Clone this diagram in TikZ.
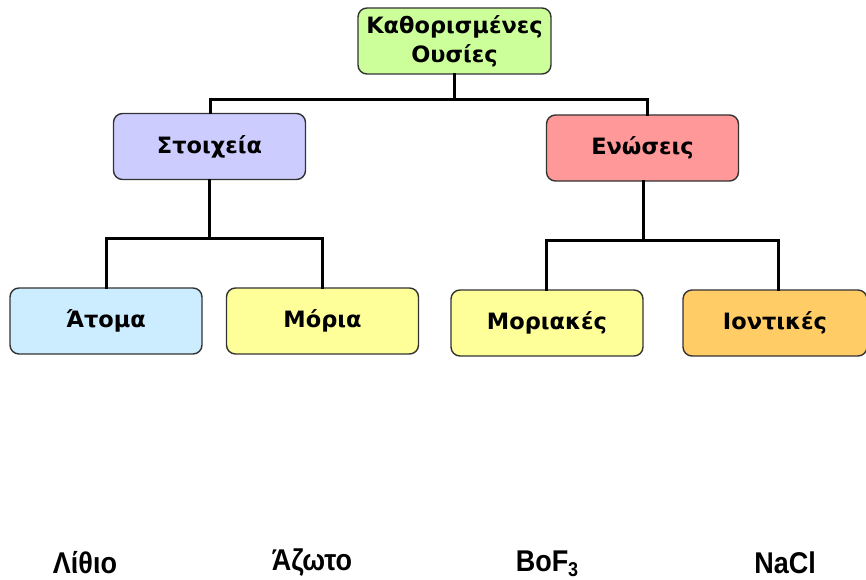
\documentclass[tikz,border=0pt]{standalone}
\usepackage{fontspec}
\setmainfont{DejaVu Sans}[BoldFont={DejaVu Sans Bold}]
\newfontfamily\labfont{Liberation Sans Bold}[FakeStretch=0.9]
\definecolor{cTop}{HTML}{CCFF99}
\definecolor{cStoi}{HTML}{CCCCFF}
\definecolor{cEno}{HTML}{FF9999}
\definecolor{cAto}{HTML}{CCECFF}
\definecolor{cMor}{HTML}{FFFF99}
\definecolor{cIon}{HTML}{FFCC66}
\definecolor{cEdge}{HTML}{333333}
\tikzset{
  box/.style={draw=cEdge, line width=1.4pt, rounded corners=9pt, minimum width=192pt, minimum height=66pt,
    font=\bfseries\fontsize{22.5}{29}\selectfont, align=center, inner sep=2pt},
  conn/.style={line width=3pt, line cap=rect},
  lab/.style={font=\labfont\fontsize{30}{32}\selectfont, inner sep=0pt}
}
\begin{document}
\begin{tikzpicture}[x=1pt,y=-1pt]
\useasboundingbox (0,0) rectangle (866,580);
% nodes
\node[box, fill=cTop, minimum width=193pt] (top) at (454.5,41) {Καθορισμένες\\Ουσίες};
\node[box, fill=cStoi] (stoi) at (209.5,146.5) {Στοιχεία};
\node[box, fill=cEno] (eno) at (642.5,148) {Ενώσεις};
\node[box, fill=cAto] (ato) at (106,321) {Άτομα};
\node[box, fill=cMor] (mor) at (322.5,321) {Μόρια};
\node[box, fill=cMor] (mork) at (547,323) {Μοριακές};
\node[box, fill=cIon, minimum width=184pt] (ion) at (775,323) {Ιοντικές};
% labels
\node[lab] (l1) at (85,563) {Λίθιο};
\node[lab] (l2) at (312,563) {Άζωτο};
\node[lab] (l3) at (547,564) {BoF\raisebox{-0.3ex}{\fontsize{20}{22}\selectfont 3}};
\node[lab] (l4) at (785,563) {NaCl};
% connectors
\coordinate (j1) at (454.5,100);
\coordinate (j2) at (209.5,238);
\coordinate (j3) at (643,240);
\draw[conn] (top.south) -- (j1);
\draw[conn] (210,100) -- (647,100);
\draw[conn] (210,100) -- (stoi.north -| 210,0);
\draw[conn] (647,100) -- (eno.north -| 647,0);
\draw[conn] (stoi.south) -- (j2);
\draw[conn] (106,238) -- (322,238);
\draw[conn] (106,238) -- (ato.north);
\draw[conn] (322,238) -- (mor.north -| 322,0);
\draw[conn] (eno.south -| 643,0) -- (j3);
\draw[conn] (546,240) -- (778,240);
\draw[conn] (546,240) -- (mork.north -| 546,0);
\draw[conn] (778,240) -- (ion.north -| 778,0);
\end{tikzpicture}
\end{document}
